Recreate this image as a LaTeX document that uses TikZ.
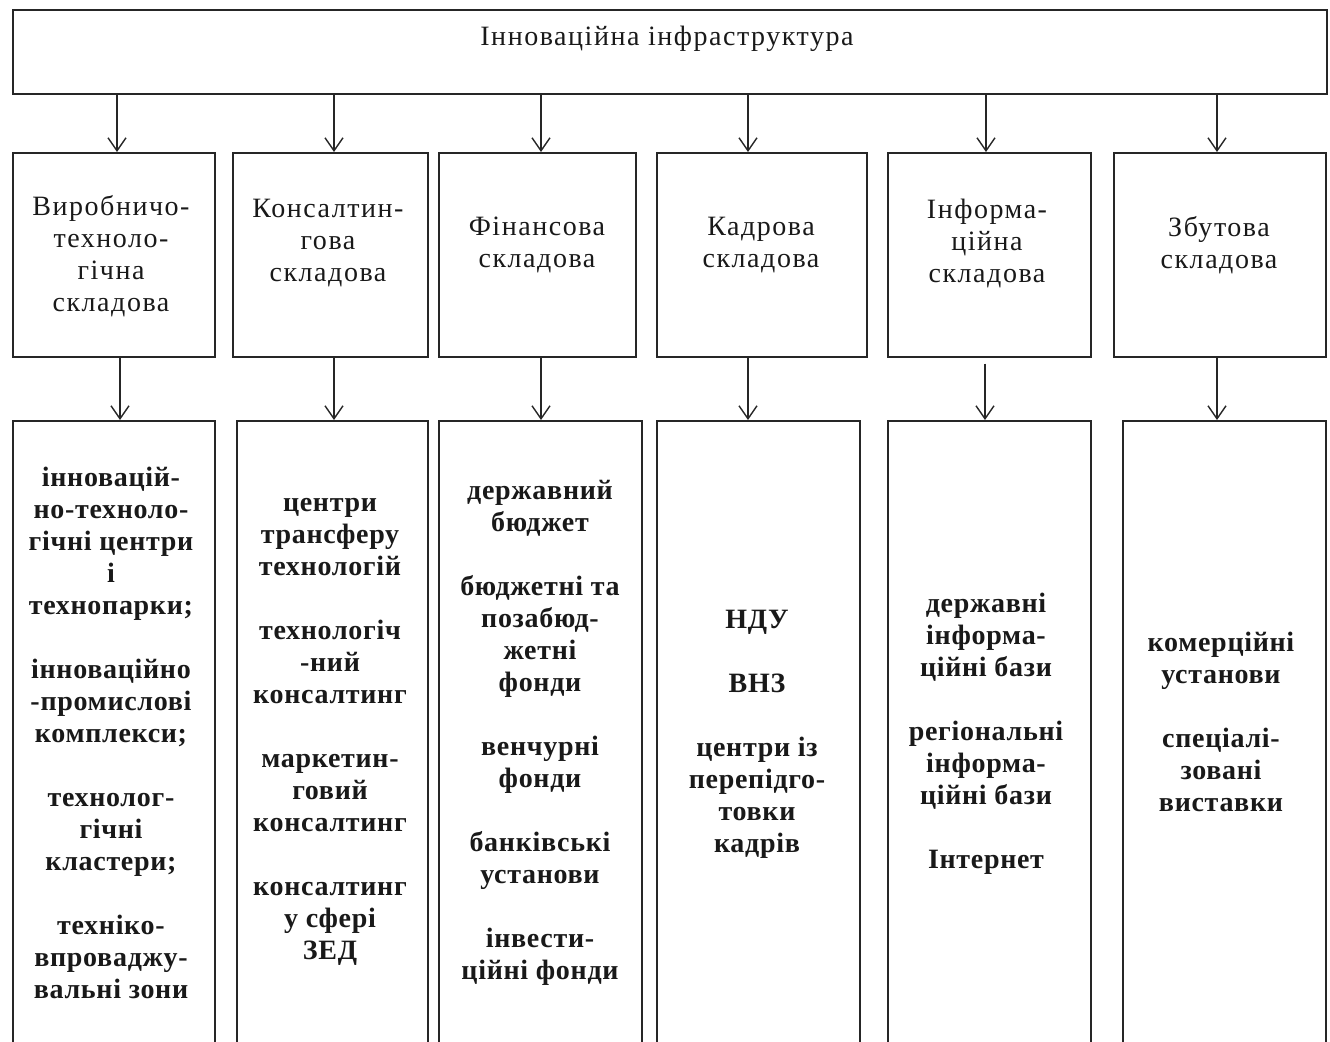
\documentclass[tikz,border=0pt]{standalone}
\usepackage{fontspec}
\setmainfont{Liberation Serif}
\newfontfamily\regsp[LetterSpace=5.5]{Liberation Serif}
\newfontfamily\boldsp[LetterSpace=2.5]{Liberation Serif}
\usetikzlibrary{arrows.meta}
\begin{document}
\begin{tikzpicture}[x=1pt,y=-1pt,
  box/.style={draw=black!85, line width=1.6pt, inner sep=0pt, anchor=north west},
  lbl/.style={align=center, inner sep=0pt, text=black!90, font=\regsp\fontsize{28}{32}\selectfont},
  lblb/.style={align=center, inner sep=0pt, text=black!90, font=\boldsp\fontsize{28}{32}\selectfont\bfseries},
  arr/.style={-{Straight Barb[length=13pt,width=18pt,line width=1.4pt]}, line width=1.4pt, draw=black!85}]
\useasboundingbox (0,0) rectangle (1330,1041);
\clip (0,0) rectangle (1330,1041);
\fill[white] (0,0) rectangle (1330,1041);
% top
\node[box, minimum width=1314pt, minimum height=84pt] (top) at (12,9) {};
\node[lbl] (title) at (667,39) {Інноваційна інфраструктура};
% row 2
\node[box, minimum width=202pt, minimum height=204pt] (b1) at (12,152) {};
\node[box, minimum width=195pt, minimum height=204pt] (b2) at (232,152) {};
\node[box, minimum width=197pt, minimum height=204pt] (b3) at (438,152) {};
\node[box, minimum width=210pt, minimum height=204pt] (b4) at (656,152) {};
\node[box, minimum width=203pt, minimum height=204pt] (b5) at (887,152) {};
\node[box, minimum width=212pt, minimum height=204pt] (b6) at (1113,152) {};
% row 3
\node[box, minimum width=202pt, minimum height=625pt] (c1) at (12,420) {};
\node[box, minimum width=191pt, minimum height=625pt] (c2) at (236,420) {};
\node[box, minimum width=203pt, minimum height=625pt] (c3) at (438,420) {};
\node[box, minimum width=203pt, minimum height=625pt] (c4) at (656,420) {};
\node[box, minimum width=203pt, minimum height=625pt] (c5) at (887,420) {};
\node[box, minimum width=203pt, minimum height=625pt] (c6) at (1122,420) {};
% row 2 texts
\node[lbl] (t1) at (111,256) {Виробничо-\\техноло-\\гічна\\складова};
\node[lbl] (t2) at (328,243) {Консалтин-\\гова\\складова};
\node[lbl] (t3) at (537,245) {Фінансова\\складова};
\node[lbl] (t4) at (761,245) {Кадрова\\складова};
\node[lbl] (t5) at (987,243) {Інформа-\\ційна\\складова};
\node[lbl] (t6) at (1219,245) {Збутова\\складова};
% row 3 texts
\node[lblb] (s1) at (111,733) {інновацій-\\но-техноло-\\гічні центри\\і\\технопарки;\\[32pt]інноваційно\\-промислові\\комплекси;\\[32pt]технолог-\\гічні\\кластери;\\[32pt]техніко-\\впроваджу-\\вальні зони};
\node[lblb] (s2) at (330,732) {центри\\трансферу\\технологій\\[32pt]технологіч\\-ний\\консалтинг\\[32pt]маркетин-\\говий\\консалтинг\\[32pt]консалтинг\\у сфері\\ЗЕД};
\node[lblb] (s3) at (540,733) {державний\\бюджет\\[32pt]бюджетні та\\позабюд-\\жетні\\фонди\\[32pt]венчурні\\фонди\\[32pt]банківські\\установи\\[32pt]інвести-\\ційні фонди};
\node[lblb] (s4) at (757,734) {НДУ\\[32pt]ВНЗ\\[32pt]центри із\\перепідго-\\товки\\кадрів};
\node[lblb] (s5) at (986,734) {державні\\інформа-\\ційні бази\\[32pt]регіональні\\інформа-\\ційні бази\\[32pt]Інтернет};
\node[lblb] (s6) at (1221,722) {комерційні\\установи\\[32pt]спеціалі-\\зовані\\виставки};
% arrow x positions
\coordinate (xa1) at (117,0);
\coordinate (xa2) at (334,0);
\coordinate (xa3) at (541,0);
\coordinate (xa4) at (748,0);
\coordinate (xa5) at (986,0);
\coordinate (xa6) at (1217,0);
\coordinate (xb1) at (120,0);
\coordinate (xb2) at (334,0);
\coordinate (xb3) at (541,0);
\coordinate (xb4) at (748,0);
\coordinate (xb5) at (985,0);
\coordinate (xb6) at (1217,0);
\foreach \i in {1,...,6}{
  \draw[arr] (top.south -| xa\i) -- (b\i.north -| xa\i);
}
\foreach \i in {1,2,3,4,6}{
  \draw[arr] (b\i.south -| xb\i) -- (c\i.north -| xb\i);
}
\draw[arr, shorten <=6pt] (b5.south -| xb5) -- (c5.north -| xb5);
\end{tikzpicture}
\end{document}
